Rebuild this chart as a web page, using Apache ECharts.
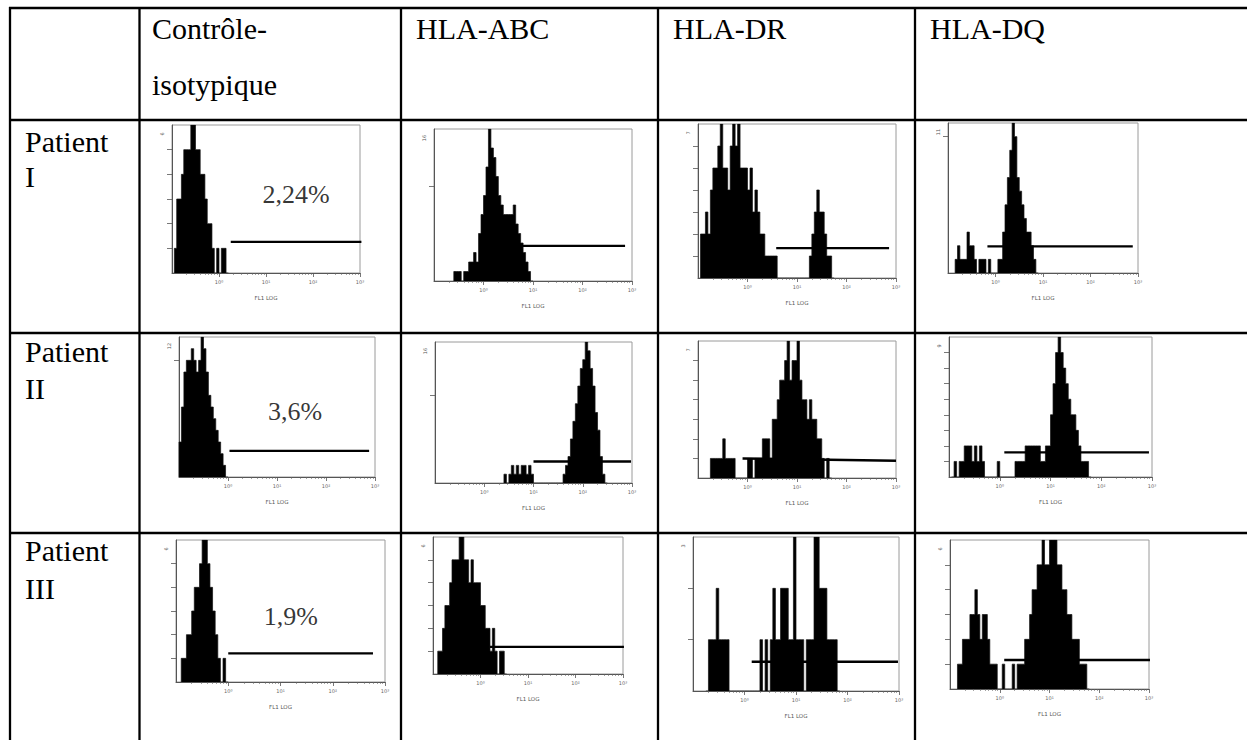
<!DOCTYPE html>
<html><head><meta charset="utf-8">
<script src="https://cdn.jsdelivr.net/npm/echarts@6/dist/echarts.min.js"></script>
<style>
html,body{margin:0;padding:0;background:#fff;}
#wrap{position:relative;width:1247px;height:740px;overflow:hidden;}
#tbl{position:absolute;left:0;top:0;}
#chart{position:absolute;left:0;top:0;width:1247px;height:740px;}
#tbl text{font-family:"Liberation Serif","Times New Roman",serif;font-size:30px;fill:#000;}
</style></head><body>
<div id="wrap">
<svg id="tbl" width="1247" height="740" xmlns="http://www.w3.org/2000/svg"></svg>
<div id="chart"></div>
</div>
<script>
// ---------- texts ----------
const columnTitles = [['Contrôle-', 'isotypique'], ['HLA-ABC'], ['HLA-DR'], ['HLA-DQ']];
const rowTitles = [['Patient', 'I'], ['Patient', 'II'], ['Patient', 'III']];
const percentTexts = ['2,24%', '3,6%', '1,9%'];
const xTickValues = [0, 1, 2, 3];
const xTickLabels = ['10⁰', '10¹', '10²', '10³'];
const xAxisTitle = 'FL1 LOG';
const minorTickFactors = [2, 3, 4, 5, 6, 7, 8, 9];
const BIN_WIDTH = 0.05; // decades per histogram channel

// ---------- histogram counts (panel order: row by row, columns Contrôle, ABC, DR, DQ) ----------
const ctrlP1 = [1,3,3,4,5,5,5,6,6,5,5,4,4,3,2,2,1,0,1,0,1,1,0];
const abcP1  = [1,1,1,0,1,1,2,2,3,2,5,7,9,12,16,14,13,11,9,8,7,7,7,7,8,6,5,4,3,2,1,0];
const drP1   = [2,2,3,2,4,5,5,6,7,5,5,4,6,7,6,7,5,5,5,4,5,3,4,3,2,2,1,1,1,1,1,0,0,0,0,0,0,0,0,0,0,0,0,0,1,2,3,4,3,3,2,1,1,0];
const dqP1   = [1,2,1,1,1,3,2,2,1,0,1,1,1,0,1,0,0,0,1,1,3,5,7,9,11,10,7,6,5,4,3,3,2,1,0];
const ctrlP2 = [3,6,9,10,10,11,10,9,10,12,11,9,7,6,5,4,3,2,1,0];
const abcP2  = [1,0,1,2,1,2,1,2,2,1,2,1,0,0,0,0,0,0,0,0,0,0,0,0,1,2,3,5,7,9,11,13,14,16,15,13,11,8,6,3,1,0];
const drP2   = [1,1,1,1,1,2,1,1,1,1,0,0,0,0,0,1,1,0,1,1,1,2,2,2,1,3,3,4,5,5,6,7,5,6,6,7,5,4,4,3,4,3,3,2,2,1,0,1,0];
const dqP2   = [0,1,0,1,1,2,2,2,1,2,1,2,1,0,0,0,0,0,1,0,0,0,0,0,0,1,1,1,1,2,2,2,2,2,2,1,1,2,2,4,6,8,9,8,7,6,5,4,4,3,2,1,1,1,0];
const ctrlP3 = [1,1,2,2,3,4,4,5,6,6,5,4,3,2,1,0,1,0];
const abcP3  = [1,1,2,3,3,4,5,5,5,6,6,5,5,4,5,4,4,4,3,3,2,2,1,2,1,0,1,1,0];
const drP3   = [0,1,1,1,2,1,1,1,1,0,0,0,0,0,0,0,0,0,0,0,0,1,0,1,0,1,2,1,1,2,2,2,1,1,3,1,1,1,0,1,1,1,3,3,2,2,2,1,1,1,1,0];
const dqP3   = [1,1,2,2,2,3,3,4,3,2,3,3,2,1,1,1,0,0,1,0,0,0,1,0,1,1,1,2,2,3,4,4,5,5,6,5,5,6,6,6,5,5,4,4,3,3,2,2,2,1,1,1,0];
const histograms = [ctrlP1, abcP1, drP1, dqP1, ctrlP2, abcP2, drP2, dqP2, ctrlP3, abcP3, drP3, dqP3];
// log10 of the first channel of each histogram
const histStarts = [-0.95, -0.60, -0.95, -0.85, -1.00, 0.40, -0.75, -0.95, -0.90, -0.90, -0.75, -0.85];
// count axis maximum of each panel
const yMaxima = [6, 16, 7, 11, 12, 16, 7, 9, 6, 6, 3, 6];
// marker (gate) bars: [[log start, count], [log end, count]]
const gateLines = [
  [[0.25, 1.26], [3.03, 1.26]], [[0.77, 3.7], [2.86, 3.7]], [[0.58, 1.36], [2.86, 1.36]], [[-0.17, 1.95], [2.89, 1.95]],
  [[0.03, 2.24], [2.88, 2.24]], [[1.0, 2.44], [2.98, 2.44]], [[-0.1, 1.0], [3.0, 0.88]], [[0.09, 1.58], [2.94, 1.58]],
  [[0.0, 1.21], [2.77, 1.21]], [[0.2, 1.19], [3.02, 1.19]], [[0.14, 0.57], [2.98, 0.57]], [[0.09, 1.17], [3.02, 1.17]]
];
// percentage annotations (Contrôle panels) in data coords [log, count]
const percentAnchors = [[1.64, 3.2], [1.37, 5.6], [1.2, 2.75]];
const percentPanels = [0, 4, 8];

// ---------- layout (pixels) ----------
const panelBoxes = [
  [172,125,188,148], [434,129,198,152], [698,124,198,154], [948,123,190,150],
  [179,337,196,140], [435,342,197,141], [698,341,198,137], [949,337,203,140],
  [176,540,209,142], [433,537,190,137], [693,537,206,154], [950,540,199,149]
];
const tableVLines = [10, 139.5, 401, 658, 915];
const tableHLines = [8, 120, 333, 533];
const colTextX = [152, 416, 673, 930];
const headerBaselines = [39, 95];
const rowTextX = 25;
const rowBaselines = [[152, 187], [362, 399], [561, 599]];

// ---------- table (svg) ----------
const svg = document.getElementById('tbl');
const NS = 'http://www.w3.org/2000/svg';
function el(tag, attrs, text) {
  const e = document.createElementNS(NS, tag);
  for (const k in attrs) e.setAttribute(k, attrs[k]);
  if (text !== undefined) e.textContent = text;
  svg.appendChild(e);
  return e;
}
tableVLines.forEach(x => el('line', {x1: x, y1: 7, x2: x, y2: 740, stroke: '#000', 'stroke-width': 2.3}));
tableHLines.forEach(y => el('line', {x1: 9, y1: y, x2: 1247, y2: y, stroke: '#000', 'stroke-width': 2.3}));
columnTitles.forEach((lines, c) => lines.forEach((t, j) => el('text', {x: colTextX[c], y: headerBaselines[j]}, t)));
rowTitles.forEach((lines, r) => lines.forEach((t, j) => el('text', {x: rowTextX, y: rowBaselines[r][j]}, t)));

// ---------- charts ----------
const minorTicks = [];
[-1, 0, 1, 2].forEach(d => minorTickFactors.forEach(k => minorTicks.push(+(d + Math.log10(k)).toFixed(4))));

function histData(start, counts) {
  const pts = [[start, 0]];
  counts.forEach((c, i) => pts.push([+(start + i * BIN_WIDTH).toFixed(3), c]));
  pts.push([+(start + counts.length * BIN_WIDTH).toFixed(3), 0]);
  return pts;
}
function yTicks(m) {
  if (m >= 10) return [10];
  const t = [];
  for (let v = 1; v < m; v++) t.push(v);
  return t;
}

const grids = [], xAxes = [], yAxes = [], series = [];
panelBoxes.forEach((b, i) => {
  grids.push({left: b[0], top: b[1], width: b[2], height: b[3], show: true,
    borderColor: '#9a9a9a', borderWidth: 1, backgroundColor: 'transparent', containLabel: false, outerBoundsMode: 'none'});
  xAxes.push({type: 'value', gridIndex: i, min: -1, max: 3, position: 'bottom',
    axisLine: {show: true, onZero: false, lineStyle: {color: '#555', width: 1}},
    axisTick: {show: true, customValues: xTickValues, length: 4, lineStyle: {color: '#555', width: 0.8}},
    axisLabel: {show: true, customValues: xTickValues, formatter: v => xTickLabels[xTickValues.indexOf(Math.round(v))],
      fontSize: 5, color: '#666', margin: 6, fontFamily: 'DejaVu Sans'},
    splitLine: {show: false},
    name: xAxisTitle, nameLocation: 'middle', nameGap: 22,
    nameTextStyle: {fontSize: 5.5, color: '#555', fontFamily: 'DejaVu Sans'}});
  xAxes.push({type: 'value', gridIndex: i, min: -1, max: 3, position: 'bottom', offset: 0,
    axisLine: {show: false, onZero: false},
    axisTick: {show: true, customValues: minorTicks, length: 2, lineStyle: {color: '#666', width: 0.6}},
    axisLabel: {show: false}, splitLine: {show: false}});
  const m = yMaxima[i];
  yAxes.push({type: 'value', gridIndex: i, min: 0, max: m,
    axisLine: {show: true, onZero: false, lineStyle: {color: '#555', width: 1}},
    axisTick: {show: true, customValues: yTicks(m), length: 5, lineStyle: {color: '#555', width: 0.8}},
    axisLabel: {show: true, customValues: [m], formatter: () => String(m), rotate: 90,
      fontSize: 5, color: '#555', margin: 8, padding: [0, 18, 0, 0], fontFamily: 'DejaVu Sans'},
    splitLine: {show: false}});
  series.push({type: 'line', xAxisIndex: 2 * i, yAxisIndex: i, data: histData(histStarts[i], histograms[i]),
    step: 'end', symbol: 'none', silent: true,
    lineStyle: {color: '#111', width: 0.7}, areaStyle: {color: '#000', opacity: 1, origin: 'start'}});
  series.push({type: 'line', xAxisIndex: 2 * i, yAxisIndex: i, data: gateLines[i], symbol: 'none', silent: true,
    clip: false, lineStyle: {color: '#000', width: 2.4}});
});
percentPanels.forEach((p, j) => {
  series.push({type: 'scatter', xAxisIndex: 2 * p, yAxisIndex: p, data: [percentAnchors[j]], symbolSize: 0, silent: true,
    label: {show: true, position: [0, 0], align: 'center', verticalAlign: 'middle', formatter: percentTexts[j],
      fontFamily: 'Liberation Serif', fontSize: 26, color: '#000'}});
});

const chart = echarts.init(document.getElementById('chart'), null, {renderer: 'svg'});
chart.setOption({animation: false, grid: grids, xAxis: xAxes, yAxis: yAxes, series: series});
</script>
</body></html>
